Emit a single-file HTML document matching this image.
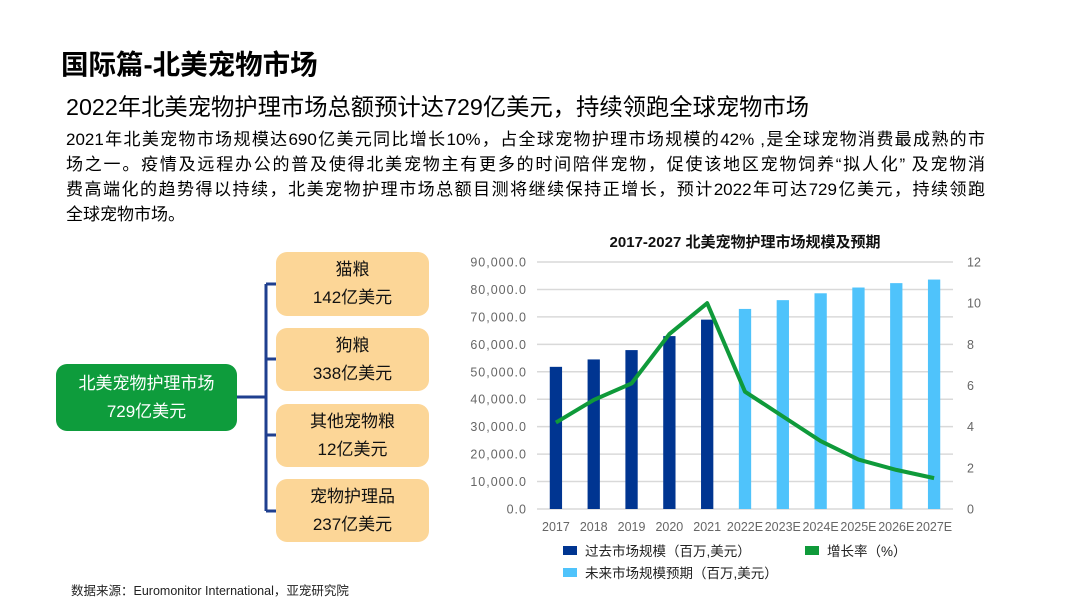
<!DOCTYPE html>
<html><head><meta charset="utf-8">
<style>
body{margin:0;background:#fff;}
#root{position:relative;width:1080px;height:608px;overflow:hidden;font-family:"Liberation Sans","Noto Sans CJK SC",sans-serif;color:#000;}
.abs{position:absolute;white-space:nowrap;}
.box{position:absolute;background:#fcd697;border-radius:11px;text-align:center;font-size:17px;line-height:28px;color:#111;}
.pl{white-space:nowrap;width:919px;text-align:justify;text-align-last:justify;}
</style></head><body>
<div id="root">
<div class="abs" style="left:61px;top:42px;font-size:27.5px;font-weight:bold;">国际篇-北美宠物市场</div>
<div class="abs" style="left:66px;top:88px;font-size:23.3px;">2022年北美宠物护理市场总额预计达729亿美元，持续领跑全球宠物市场</div>
<div style="position:absolute;left:66px;top:127px;font-size:17px;line-height:25px;">
<div class="pl">2021年北美宠物市场规模达690亿美元同比增长10%，占全球宠物护理市场规模的42% ,是全球宠物消费最成熟的市</div>
<div class="pl">场之一。疫情及远程办公的普及使得北美宠物主有更多的时间陪伴宠物，促使该地区宠物饲养“拟人化” 及宠物消</div>
<div class="pl">费高端化的趋势得以持续，北美宠物护理市场总额目测将继续保持正增长，预计2022年可达729亿美元，持续领跑</div>
<div style="white-space:nowrap">全球宠物市场。</div>
</div>
<svg class="abs" style="left:0;top:0" width="1080" height="608">
<g stroke="#1f3f8f" stroke-width="3" fill="none">
<line x1="237" y1="397" x2="266" y2="397"/>
<line x1="266" y1="284" x2="266" y2="511"/>
<line x1="266" y1="284" x2="276" y2="284"/>
<line x1="266" y1="359" x2="276" y2="359"/>
<line x1="266" y1="435" x2="276" y2="435"/>
<line x1="266" y1="511" x2="276" y2="511"/>
</g></svg>
<div class="box" style="left:56px;top:364px;width:181px;height:67px;background:#0e9c3c;color:#fff;line-height:28px;padding-top:6px;box-sizing:border-box;">北美宠物护理市场<br>729亿美元</div>
<div class="box" style="left:276px;top:252px;width:153px;height:64px;padding-top:4px;box-sizing:border-box;">猫粮<br>142亿美元</div>
<div class="box" style="left:276px;top:328px;width:153px;height:63px;padding-top:4px;box-sizing:border-box;">狗粮<br>338亿美元</div>
<div class="box" style="left:276px;top:404px;width:153px;height:63px;padding-top:4px;box-sizing:border-box;">其他宠物粮<br>12亿美元</div>
<div class="box" style="left:276px;top:479px;width:153px;height:63px;padding-top:4px;box-sizing:border-box;">宠物护理品<br>237亿美元</div>
<div class="abs" style="left:71px;top:580px;font-size:12.5px;color:#222;">数据来源：Euromonitor International，亚宠研究院</div>
<svg id="chart" class="abs" style="left:0;top:0" width="1080" height="608"></svg>
</div>
<script>
const categories=["2017","2018","2019","2020","2021","2022E","2023E","2024E","2025E","2026E","2027E"];
const marketSize=[51800,54500,57900,63000,69000,72900,76100,78600,80700,82300,83600];
const isForecast=[false,false,false,false,false,true,true,true,true,true,true];
const growthRate=[4.2,5.3,6.1,8.5,10.0,5.7,4.5,3.3,2.4,1.9,1.5];
const leftTicks=["0.0","10,000.0","20,000.0","30,000.0","40,000.0","50,000.0","60,000.0","70,000.0","80,000.0","90,000.0"];
const rightTicks=["0","2","4","6","8","10","12"];
const NS="http://www.w3.org/2000/svg";
const svg=document.getElementById('chart');
const X0=537,X1=953,Y0=509,Y1=262;
const band=(X1-X0)/categories.length;
const xc=i=>X0+band*(i+0.5);
const yL=v=>Y0-(v/90000)*(Y0-Y1);
const yR=v=>Y0-(v/12)*(Y0-Y1);
function mk(t,a){const e=document.createElementNS(NS,t);for(const k in a)e.setAttribute(k,a[k]);svg.appendChild(e);return e;}
let t=mk('text',{x:745,y:247,'text-anchor':'middle','font-size':15,'font-weight':'bold',fill:'#111'});t.textContent="2017-2027 北美宠物护理市场规模及预期";


leftTicks.forEach((lab,i)=>{const v=i*10000;const y=yL(v);
 const g=mk('line',{x1:X0,x2:X1,y1:y,y2:y,stroke:'#d9d9d9','stroke-width':1.5});
 
 
 const tx=mk('text',{x:527,y:y+4.5,'text-anchor':'end','font-size':12.5,'letter-spacing':1,fill:'#666'});tx.textContent=lab;
 
 
});
rightTicks.forEach(lab=>{const y=yR(+lab);
 const tx=mk('text',{x:967,y:y+4.5,'text-anchor':'start','font-size':12.5,fill:'#666'});tx.textContent=lab;
 
 
});
marketSize.forEach((v,i)=>{const w=12.3;
 const r=mk('rect',{x:xc(i)-w/2,y:yL(v),width:w,height:Y0-yL(v),fill:isForecast[i]?'#4fc3fb':'#003591'});
 
 
 const tx=mk('text',{x:xc(i),y:531,'text-anchor':'middle','font-size':12.5,fill:'#666'});tx.textContent=categories[i];
 
 
});
const pl=mk('polyline',{points:growthRate.map((v,i)=>xc(i)+','+yR(v)).join(' '),fill:'none',stroke:'#0f9a3a','stroke-width':4,'stroke-linejoin':'round'});


const leg=[[563,552,'#003591','过去市场规模（百万,美元）'],[805,552,'#0f9a3a','增长率（%）'],[563,574,'#4fc3fb','未来市场规模预期（百万,美元）']];
leg.forEach(l=>{const r=mk('rect',{x:l[0],y:l[1]-6,width:14,height:9,fill:l[2]});
 
 
 const tx=mk('text',{x:l[0]+22,y:l[1]+4,'font-size':13.5,fill:'#222'});tx.textContent=l[3];
 
 
});
</script>
</body></html>
